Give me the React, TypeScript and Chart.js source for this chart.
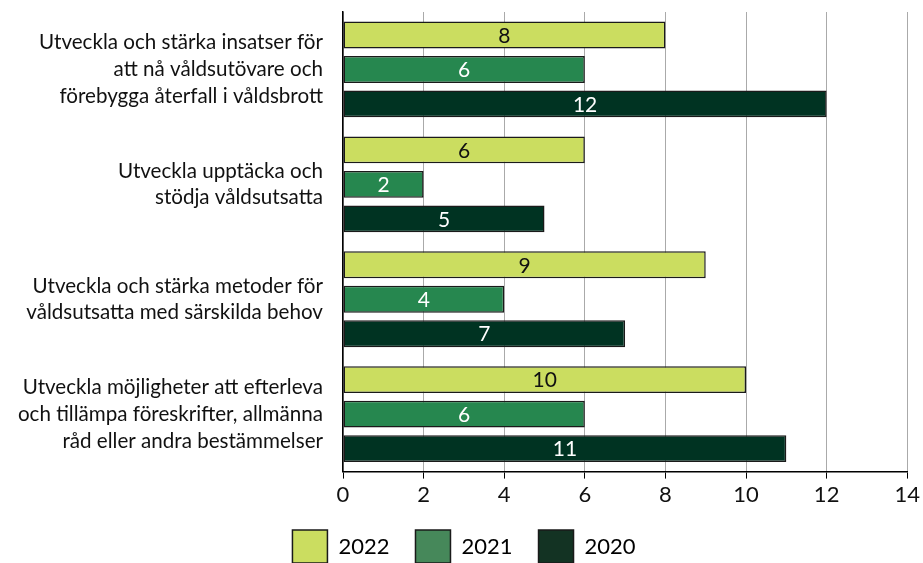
import React, { useEffect, useRef } from "react";
import { Chart, registerables } from "chart.js";

Chart.register(...registerables);

const categories: string[][] = [
  ["Utveckla och stärka insatser för", "att nå våldsutövare och", "förebygga återfall i våldsbrott"],
  ["Utveckla upptäcka och", "stödja våldsutsatta"],
  ["Utveckla och stärka metoder för", "våldsutsatta med särskilda behov"],
  ["Utveckla möjligheter att efterleva", "och tillämpa föreskrifter, allmänna", "råd eller andra bestämmelser"],
];
const seriesNames = ["2022", "2021", "2020"];
const values2022 = [8, 6, 9, 10];
const values2021 = [6, 2, 4, 6];
const values2020 = [12, 5, 7, 11];
const xTicks = [0, 2, 4, 6, 8, 10, 12, 14];

const FONT = "Lato";
const barColors = ["#cbdd60", "#26874f", "#003322"];
const legendColors = ["#cbdd60", "#46885a", "#133323"];
const labelColors = ["#111111", "#ffffff", "#ffffff"];

const LEGEND_TRIM = 6;

const valueLabels = {
  id: "valueLabels",
  beforeLayout(chart: any) {
    const lg = chart.legend;
    if (lg && !lg.__patched) {
      lg.__patched = true;
      const origFit = lg.fit;
      lg.fit = function (this: any) {
        origFit.call(this);
        this.height = this.height - LEGEND_TRIM;
      };
    }
  },
  afterLayout(chart: any) {
    const lg = chart.legend;
    if (lg) {
      lg.left += 10;
      lg.right += 10;
      lg.top -= LEGEND_TRIM + 1;
      lg.bottom -= LEGEND_TRIM + 1;
    }
  },
  afterDatasetsDraw(chart: any) {
    const ctx = chart.ctx;
    ctx.save();
    ctx.font = `21px ${FONT}`;
    ctx.textAlign = "center";
    ctx.textBaseline = "middle";
    chart.data.datasets.forEach((ds: any, i: number) => {
      const meta = chart.getDatasetMeta(i);
      meta.data.forEach((el: any, j: number) => {
        const v = ds.data[j];
        const cx = (el.x + el.base) / 2;
        ctx.fillStyle = labelColors[i];
        ctx.fillText(String(v), cx, el.y + 1);
      });
    });
    ctx.restore();
  },
};

export default function App() {
  const ref = useRef<HTMLCanvasElement | null>(null);
  useEffect(() => {
    if (!ref.current) return;
    const chart = new Chart(ref.current, {
      type: "bar",
      data: {
        labels: categories,
        datasets: [values2022, values2021, values2020].map((d, i) => ({
          label: seriesNames[i],
          data: d,
          backgroundColor: barColors[i],
          borderColor: "#1a1a1a",
          borderWidth: 1.5,
          borderSkipped: false,
          categoryPercentage: 0.9,
          barPercentage: 0.78,
        })),
      },
      options: {
        indexAxis: "y",
        animation: false,
        responsive: false,
        maintainAspectRatio: false,
        layout: { padding: { top: 12, right: 15, left: 0, bottom: 0 } },
        scales: {
          x: {
            min: 0,
            max: 14,
            afterBuildTicks: (s: any) => {
              s.ticks = xTicks.map((v) => ({ value: v }));
            },
            grid: {
              color: "#aaaaaa",
              lineWidth: 1,
              tickColor: "#000000",
              tickLength: 7,
            },
            border: { display: true, color: "#000000", width: 1.5 },
            ticks: {
              color: "#111111",
              font: { family: FONT, size: 22 },
              padding: 3,
              maxRotation: 0,
            },
          },
          y: {
            grid: { display: false },
            border: { display: true, color: "#000000", width: 1.5 },
            ticks: {
              color: "#111111",
              font: { family: FONT, size: 20.6, lineHeight: 1.3 },
              padding: 12,
            },
            afterFit: (s: any) => {
              s.width = 343;
              s.paddingTop = 0;
              s.paddingBottom = 0;
            },
          },
        },
        plugins: {
          legend: {
            position: "bottom",
            labels: {
              boxWidth: 35,
              boxHeight: 33,
              padding: 26,
              color: "#111111",
              font: { family: FONT, size: 22 },
              generateLabels: (chart: any) =>
                chart.data.datasets.map((ds: any, i: number) => ({
                  text: ds.label,
                  fillStyle: legendColors[i],
                  strokeStyle: "#1a1a1a",
                  lineWidth: 1.5,
                  datasetIndex: i,
                  hidden: false,
                })),
            },
          },
          tooltip: { enabled: false },
        },
      },
      plugins: [valueLabels],
    });
    return () => chart.destroy();
  }, []);
  return (
    <div style={{ position: "fixed", left: 0, top: 0, width: 923, height: 563, overflow: "hidden", background: "#fff" }}>
      <canvas ref={ref} width={923} height={574} style={{ display: "block" }} />
    </div>
  );
}
